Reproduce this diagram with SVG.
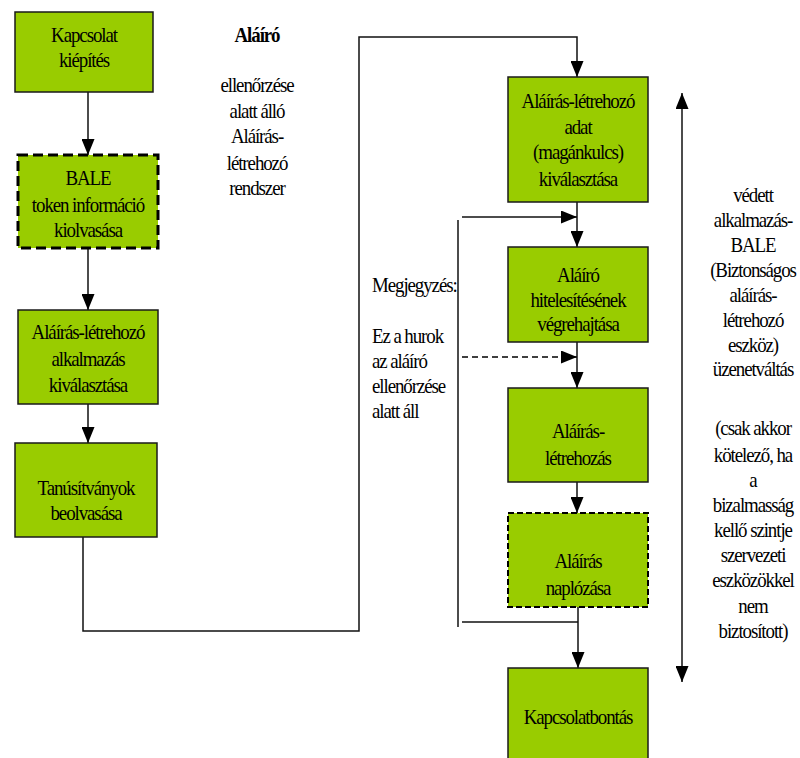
<svg xmlns="http://www.w3.org/2000/svg" width="800" height="758" viewBox="0 0 800 758">
<defs>
<marker id="ah" markerUnits="userSpaceOnUse" markerWidth="16" markerHeight="13" refX="16" refY="6.5" orient="auto">
<path d="M0,0 L16,6.5 L0,13 z" fill="#000"/>
</marker>
<marker id="ahs" markerUnits="userSpaceOnUse" markerWidth="16" markerHeight="13" refX="16" refY="6.5" orient="auto-start-reverse">
<path d="M0,0 L16,6.5 L0,13 z" fill="#000"/>
</marker>
</defs>
<style>
.box{fill:#99CC00;stroke:#1a1a1a;stroke-width:1.5}
.dbox{fill:#99CC00;stroke:#000;stroke-width:3;stroke-dasharray:10 5}
.dbox2{fill:#99CC00;stroke:#000;stroke-width:2;stroke-dasharray:6 3}
text{font-family:"Liberation Serif","Times New Roman",serif;font-size:21px;letter-spacing:-1.2px;fill:#000}
.t{text-anchor:middle}
.tl{text-anchor:start}
.b{font-weight:bold}
.c{fill:none;stroke:#111;stroke-width:1.5}
.cd{fill:none;stroke:#000;stroke-width:1.5;stroke-dasharray:6 4}
</style>
<rect width="800" height="758" fill="#fff"/>
<g id="connectors">
<line class="c" x1="88" y1="92" x2="88" y2="155" marker-end="url(#ah)"/>
<line class="c" x1="88" y1="248" x2="88" y2="310" marker-end="url(#ah)"/>
<line class="c" x1="88" y1="404" x2="88" y2="443" marker-end="url(#ah)"/>
<polyline class="c" points="83,537 83,631 359,631 359,37 577,37 577,77" marker-end="url(#ah)"/>
<line class="c" x1="577" y1="202" x2="577" y2="247" marker-end="url(#ah)"/>
<line class="c" x1="462" y1="217" x2="577" y2="217" marker-end="url(#ah)"/>
<line class="c" x1="458" y1="220" x2="458" y2="627"/>
<line class="cd" x1="462" y1="357" x2="577" y2="357" marker-end="url(#ah)"/>
<line class="c" x1="577" y1="342" x2="577" y2="388" marker-end="url(#ah)"/>
<line class="c" x1="577" y1="482" x2="577" y2="513" marker-end="url(#ah)"/>
<line class="c" x1="578" y1="607" x2="578" y2="668" marker-end="url(#ah)"/>
<line class="c" x1="462" y1="622" x2="578" y2="622"/>
<line class="c" x1="682" y1="93" x2="682" y2="682" marker-start="url(#ahs)" marker-end="url(#ahs)"/>
</g>
<g id="n1"><rect class="box" x="15" y="12" width="138" height="80"/>
<g transform="translate(84 0) scale(0.9 1)"><text class="t" x="0" y="42">Kapcsolat</text><text class="t" x="0" y="67">kiépítés</text></g></g>
<g id="n2"><rect class="dbox" x="18" y="155" width="140" height="93"/>
<g transform="translate(88 0) scale(0.9 1)"><text class="t" x="0" y="185">BALE</text><text class="t" x="0" y="212">token információ</text><text class="t" x="0" y="237">kiolvasása</text></g></g>
<g id="n3"><rect class="box" x="18" y="310" width="140" height="94"/>
<g transform="translate(88 0) scale(0.9 1)"><text class="t" x="0" y="339">Aláírás-létrehozó</text><text class="t" x="0" y="366">alkalmazás</text><text class="t" x="0" y="392">kiválasztása</text></g></g>
<g id="n4"><rect class="box" x="15" y="443" width="142" height="94"/>
<g transform="translate(86 0) scale(0.9 1)"><text class="t" x="0" y="495">Tanúsítványok</text><text class="t" x="0" y="520">beolvasása</text></g></g>
<g id="n5"><rect class="box" x="508" y="77" width="140" height="125"/>
<g transform="translate(578 0) scale(0.9 1)"><text class="t" x="0" y="108">Aláírás-létrehozó</text><text class="t" x="0" y="134">adat</text><text class="t" x="0" y="159">(magánkulcs)</text><text class="t" x="0" y="186">kiválasztása</text></g></g>
<g id="n6"><rect class="box" x="508" y="247" width="140" height="95"/>
<g transform="translate(578 0) scale(0.9 1)"><text class="t" x="0" y="282">Aláíró</text><text class="t" x="0" y="307">hitelesítésének</text><text class="t" x="0" y="331">végrehajtása</text></g></g>
<g id="n7"><rect class="box" x="508" y="388" width="140" height="94"/>
<g transform="translate(578 0) scale(0.9 1)"><text class="t" x="0" y="438">Aláírás-</text><text class="t" x="0" y="465">létrehozás</text></g></g>
<g id="n8"><rect class="dbox2" x="508" y="513" width="140" height="94"/>
<g transform="translate(578 0) scale(0.9 1)"><text class="t" x="0" y="568">Aláírás</text><text class="t" x="0" y="595">naplózása</text></g></g>
<g id="n9"><rect class="box" x="508" y="668" width="140" height="110"/>
<g transform="translate(578 0) scale(0.9 1)"><text class="t" x="0" y="724">Kapcsolatbontás</text></g></g>
<g id="label-alairo" transform="translate(257 0) scale(0.9 1)">
<text class="t b" x="0" y="42">Aláíró</text>
<text class="t" x="0" y="92">ellenőrzése</text>
<text class="t" x="0" y="118">alatt álló</text>
<text class="t" x="0" y="143">Aláírás-</text>
<text class="t" x="0" y="170">létrehozó</text>
<text class="t" x="0" y="195">rendszer</text>
</g>
<g id="label-megjegyzes" transform="translate(372 0) scale(0.9 1)">
<text class="tl" x="0" y="292">Megjegyzés:</text>
<text class="tl" x="0" y="343">Ez a hurok</text>
<text class="tl" x="0" y="368">az aláíró</text>
<text class="tl" x="0" y="393">ellenőrzése</text>
<text class="tl" x="0" y="418">alatt áll</text>
</g>
<g id="label-vedett" transform="translate(753 0) scale(0.9 1)">
<text class="t" x="0" y="202">védett</text>
<text class="t" x="0" y="227">alkalmazás-</text>
<text class="t" x="0" y="252">BALE</text>
<text class="t" x="0" y="277">(Biztonságos</text>
<text class="t" x="0" y="302">aláírás-</text>
<text class="t" x="0" y="327">létrehozó</text>
<text class="t" x="0" y="352">eszköz)</text>
<text class="t" x="0" y="376">üzenetváltás</text>
<text class="t" x="0" y="435">(csak akkor</text>
<text class="t" x="0" y="462">kötelező, ha</text>
<text class="t" x="0" y="487">a</text>
<text class="t" x="0" y="512">bizalmasság</text>
<text class="t" x="0" y="537">kellő szintje</text>
<text class="t" x="0" y="562">szervezeti</text>
<text class="t" x="0" y="587">eszközökkel</text>
<text class="t" x="0" y="613">nem</text>
<text class="t" x="0" y="638">biztosított)</text>
</g>
</svg>
